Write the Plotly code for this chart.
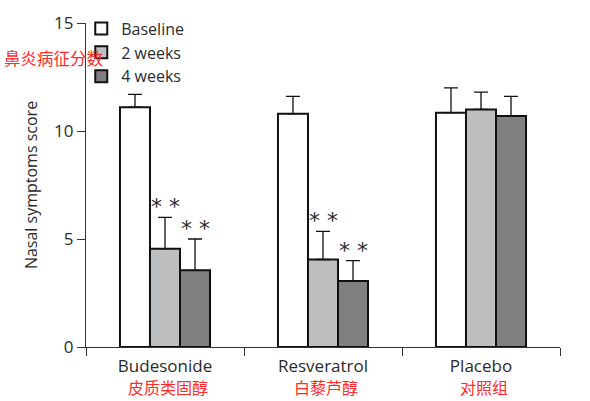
import plotly.graph_objects as go

# Data
groups = ["Budesonide", "Resveratrol", "Placebo"]
groups_cn = ["皮质类固醇", "白藜芦醇", "对照组"]
series = ["Baseline", "2 weeks", "4 weeks"]
baseline = [11.1, 10.8, 10.85]
baseline_err = [0.6, 0.8, 1.15]
week2 = [4.55, 4.05, 11.0]
week2_err = [1.45, 1.3, 0.8]
week4 = [3.55, 3.05, 10.7]
week4_err = [1.45, 0.95, 0.9]
stars = [["", "**", "**"], ["", "**", "**"], ["", "", ""]]

colors = ["#ffffff", "#bdbec0", "#808080"]
ink = "#2b2b2b"

fig = go.Figure()
for name, vals, errs, col in zip(series, [baseline, week2, week4],
                                 [baseline_err, week2_err, week4_err], colors):
    fig.add_trace(go.Bar(
        x=groups, y=vals, name=name,
        marker=dict(color=col, line=dict(color="#111111", width=2)),
        error_y=dict(type="data", array=errs, arrayminus=[0] * len(errs),
                     symmetric=False, color="#111111", thickness=1.3, width=7),
    ))

# significance stars above the error bars
for gi, g in enumerate(groups):
    tops = [baseline[gi] + baseline_err[gi], week2[gi] + week2_err[gi], week4[gi] + week4_err[gi]]
    for si in range(3):
        if stars[gi][si]:
            fig.add_annotation(x=g, y=tops[si], text="* *", showarrow=False,
                               xshift=(si - 1) * 30, yanchor="bottom", yshift=-4,
                               font=dict(size=22, color=ink, family="DejaVu Sans"))

# Chinese labels under categories
for g, cn in zip(groups, groups_cn):
    fig.add_annotation(x=g, y=0, yref="paper", text=cn, showarrow=False,
                       yanchor="middle", yshift=-40, xshift=3,
                       font=dict(size=16, color="#ff2a2a", family="Noto Sans CJK SC"))

fig.add_annotation(x=-0.177, y=0.893, xref="paper", yref="paper", text="鼻炎病征分数",
                   showarrow=False, xanchor="left", yanchor="middle",
                   font=dict(size=16.5, color="#ff2a2a", family="Noto Sans CJK SC"))

fig.update_layout(
    width=590, height=401,
    margin=dict(l=86, r=30, t=18, b=54),
    paper_bgcolor="white", plot_bgcolor="white",
    font=dict(family="Open Sans", color=ink, size=16),
    barmode="group", bargap=0.43, bargroupgap=0,
    showlegend=True,
    legend=dict(x=-0.01, y=1.035, xanchor="left", yanchor="top",
                bgcolor="rgba(0,0,0,0)", font=dict(size=16, color=ink),
                tracegroupgap=0, itemwidth=30),
    xaxis=dict(showline=True, linecolor="#333333", linewidth=1.2, automargin=False,
               ticks="outside", tickson="boundaries", ticklen=8, tickcolor="#333333",
               ticklabelstandoff=3,
               tickfont=dict(size=17, color=ink), showgrid=False),
    yaxis=dict(range=[0, 15], tickvals=[0, 5, 10, 15], showline=True, automargin=False,
               linecolor="#333333", linewidth=1.2, ticks="outside", ticklen=8,
               tickcolor="#333333", showgrid=False, zeroline=False,
               tickfont=dict(size=17, color=ink),
               title=dict(text="Nasal symptoms score", font=dict(size=16, color=ink), standoff=12)),
)

fig.write_html("out.html", config={"displayModeBar": False},
               post_script="document.body.style.margin='0';")
